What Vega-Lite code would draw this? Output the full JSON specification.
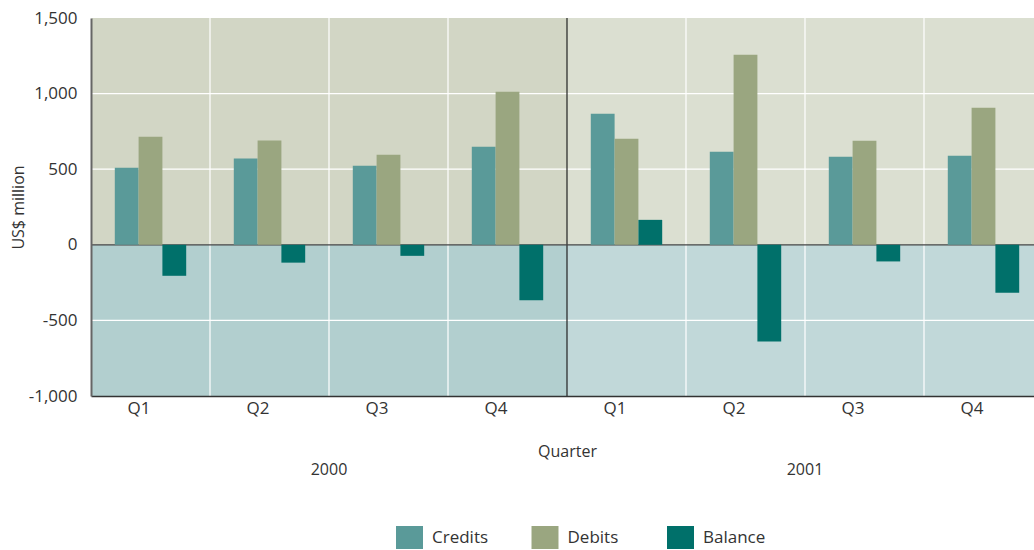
{
  "$schema": "https://vega.github.io/schema/vega-lite/v6.json",
  "width": 943,
  "height": 378,
  "autosize": {"type": "none"},
  "padding": {"left": 91, "top": 18, "right": 0, "bottom": 154},
  "background": "white",
  "config": {
    "font": "Open Sans",
    "view": {"stroke": null},
    "axis": {"labelColor": "#333333", "titleColor": "#333333", "labelFont": "Open Sans", "titleFont": "Open Sans", "labelFontSize": 17, "titleFontSize": 16, "titleFontWeight": "normal"},
    "legend": {"labelFont": "Open Sans", "labelColor": "#333333"}
  },
  "datasets": {
    "years": [{"year": "2000"}, {"year": "2001"}],
    "grid": [{"v": -500}, {"v": 500}, {"v": 1000}],
    "bars": [
      {"period": "2000 Q1", "series": "Credits", "value": 510},
      {"period": "2000 Q1", "series": "Debits", "value": 715},
      {"period": "2000 Q1", "series": "Balance", "value": -205},
      {"period": "2000 Q2", "series": "Credits", "value": 570},
      {"period": "2000 Q2", "series": "Debits", "value": 690},
      {"period": "2000 Q2", "series": "Balance", "value": -118},
      {"period": "2000 Q3", "series": "Credits", "value": 522},
      {"period": "2000 Q3", "series": "Debits", "value": 595},
      {"period": "2000 Q3", "series": "Balance", "value": -73},
      {"period": "2000 Q4", "series": "Credits", "value": 648},
      {"period": "2000 Q4", "series": "Debits", "value": 1012},
      {"period": "2000 Q4", "series": "Balance", "value": -366},
      {"period": "2001 Q1", "series": "Credits", "value": 866},
      {"period": "2001 Q1", "series": "Debits", "value": 701},
      {"period": "2001 Q1", "series": "Balance", "value": 165},
      {"period": "2001 Q2", "series": "Credits", "value": 615},
      {"period": "2001 Q2", "series": "Debits", "value": 1257},
      {"period": "2001 Q2", "series": "Balance", "value": -640},
      {"period": "2001 Q3", "series": "Credits", "value": 582},
      {"period": "2001 Q3", "series": "Debits", "value": 688},
      {"period": "2001 Q3", "series": "Balance", "value": -110},
      {"period": "2001 Q4", "series": "Credits", "value": 589},
      {"period": "2001 Q4", "series": "Debits", "value": 906},
      {"period": "2001 Q4", "series": "Balance", "value": -317}
    ]
  },
  "layer": [
    {
      "data": {"name": "years"},
      "layer": [
        {
          "mark": {"type": "rect"},
          "encoding": {
            "x": {"field": "year", "type": "nominal", "scale": {"range": [0, 952], "paddingInner": 0, "paddingOuter": 0},
              "axis": {"orient": "bottom", "title": null, "ticks": false, "domain": false, "grid": false, "labelAngle": 0, "labelPadding": 65, "labelFontSize": 16}},
            "y": {"datum": 0, "type": "quantitative", "scale": {"domain": [-1000, 1500], "nice": false}},
            "y2": {"datum": 1500},
            "color": {"condition": {"test": "datum.year === '2000'", "value": "#D2D6C5"}, "value": "#DBDFD1"}
          }
        },
        {
          "mark": {"type": "rect"},
          "encoding": {
            "x": {"field": "year", "type": "nominal"},
            "y": {"datum": -1000, "type": "quantitative"},
            "y2": {"datum": 0},
            "color": {"condition": {"test": "datum.year === '2000'", "value": "#B2CFCF"}, "value": "#C1D8D9"}
          }
        }
      ]
    },
    {
      "layer": [
        {
          "data": {"name": "grid"},
          "mark": {"type": "rule", "color": "#ffffff", "strokeWidth": 1.2},
          "encoding": {"y": {"field": "v", "type": "quantitative"}}
        },
        {
          "data": {"name": "bars"},
          "transform": [{"filter": "datum.series === 'Credits'"}],
          "mark": {"type": "rule", "strokeWidth": 1.2},
          "encoding": {
            "x": {"field": "period", "type": "nominal", "bandPosition": 0},
            "color": {"condition": {"test": "datum.period === '2001 Q1'", "value": "#222222"}, "value": "#ffffff"}
          }
        },
        {
          "data": {"values": [{}]},
          "mark": {"type": "rule", "color": "#444444", "strokeWidth": 1.3},
          "encoding": {"y": {"datum": 0, "type": "quantitative"}}
        },
        {
          "data": {"name": "bars"},
          "mark": {"type": "bar"},
          "encoding": {
            "x": {"field": "period", "type": "nominal", "sort": null,
              "scale": {"range": [0, 952], "paddingInner": 0, "paddingOuter": 0},
              "axis": {"orient": "bottom", "title": "Quarter", "labelExpr": "split(datum.label, ' ')[1]", "ticks": false, "grid": false, "labelAngle": 0,
                "domainColor": "#333333", "domainWidth": 1.5, "labelPadding": 12, "titlePadding": 27, "zindex": 1}},
            "xOffset": {"field": "series", "type": "nominal", "scale": {"domain": ["Credits", "Debits", "Balance"], "paddingInner": 0, "paddingOuter": 1.087}},
            "y": {"field": "value", "type": "quantitative", "scale": {"domain": [-1000, 1500], "nice": false},
              "axis": {"title": "US$ million", "values": [-1000, -500, 0, 500, 1000, 1500], "labelExpr": "replace(format(datum.value, ','), '\u2212', '-')", "grid": false, "ticks": false,
                "domainColor": "#666666", "domainWidth": 2, "labelPadding": 14, "titlePadding": 2, "zindex": 1}},
            "color": {"field": "series", "type": "nominal",
              "scale": {"domain": ["Credits", "Debits", "Balance"], "range": ["#5A9A99", "#9AA680", "#00706A"]},
              "legend": {"title": null, "orient": "none", "legendX": 307, "legendY": 508, "direction": "horizontal",
                "symbolType": "M-1.174,-1H1.174V1H-1.174Z", "symbolSize": 529, "symbolStrokeWidth": 0,
                "labelFontSize": 17, "labelOffset": 11, "columnPadding": 35.5, "gridAlign": "all", "padding": 0}}
          }
        }
      ]
    }
  ],
  "resolve": {"scale": {"x": "independent"}, "axis": {"x": "independent"}}
}
